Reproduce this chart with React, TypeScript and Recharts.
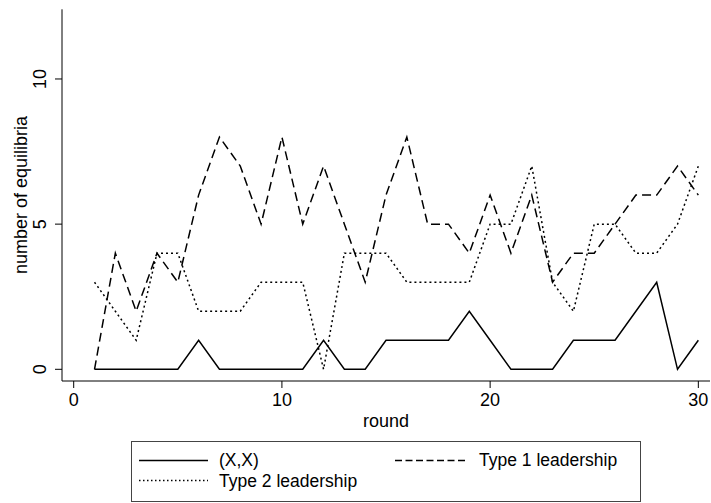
import React from 'react';
import { LineChart, Line, XAxis, YAxis } from 'recharts';

// Rounds of the experiment
const rounds = [1, 2, 3, 4, 5, 6, 7, 8, 9, 10, 11, 12, 13, 14, 15, 16, 17, 18, 19, 20, 21, 22, 23, 24, 25, 26, 27, 28, 29, 30];

// Number of equilibria per round, by type
const xxEquilibria = [0, 0, 0, 0, 0, 1, 0, 0, 0, 0, 0, 1, 0, 0, 1, 1, 1, 1, 2, 1, 0, 0, 0, 1, 1, 1, 2, 3, 0, 1];
const type1Leadership = [0, 4, 2, 4, 3, 6, 8, 7, 5, 8, 5, 7, 5, 3, 6, 8, 5, 5, 4, 6, 4, 6, 3, 4, 4, 5, 6, 6, 7, 6];
const type2Leadership = [3, 2, 1, 4, 4, 2, 2, 2, 3, 3, 3, 0, 4, 4, 4, 3, 3, 3, 3, 5, 5, 7, 3, 2, 5, 5, 4, 4, 5, 7];

const xTicks = [0, 10, 20, 30];
const yTicks = [0, 5, 10];

const seriesNames = ['(X,X)', 'Type 1 leadership', 'Type 2 leadership'];

const data = rounds.map((r, i) => ({
  round: r,
  xx: xxEquilibria[i],
  t1: type1Leadership[i],
  t2: type2Leadership[i],
}));

const FONT = '"Liberation Sans", Arial, Helvetica, sans-serif';
const DASH_T1 = '9 5';
const DASH_T2 = '2 3';

const XTick = (props: any) => {
  const { x, payload } = props;
  return (
    <text x={x} y={406} textAnchor="middle" fontSize={18} fontFamily={FONT} fill="#000">
      {payload.value}
    </text>
  );
};

const YTick = (props: any) => {
  const { y, payload } = props;
  return (
    <text
      transform={`translate(46, ${y}) rotate(-90)`}
      textAnchor="middle"
      fontSize={18}
      fontFamily={FONT}
      fill="#000"
    >
      {payload.value}
    </text>
  );
};

export default function App() {
  return (
    <div style={{ position: 'absolute', left: 0, top: 0, width: 711, height: 503, background: '#fff' }}>
      <LineChart
        width={711}
        height={503}
        data={data}
        margin={{ top: 9.3, right: 1, bottom: 92, left: 0 }}
      >
        <XAxis
          dataKey="round"
          type="number"
          domain={[-0.562, 30.56]}
          ticks={xTicks}
          allowDataOverflow
          height={30}
          tickSize={7}
          tick={<XTick />}
          axisLine={{ stroke: '#000', strokeWidth: 1 }}
          tickLine={{ stroke: '#000', strokeWidth: 1 }}
        />
        <YAxis
          type="number"
          domain={[-0.403, 12.4]}
          ticks={yTicks}
          allowDataOverflow
          width={62}
          tickSize={7}
          tick={<YTick />}
          axisLine={{ stroke: '#000', strokeWidth: 1 }}
          tickLine={{ stroke: '#000', strokeWidth: 1 }}
        />
        <Line
          type="linear"
          dataKey="xx"
          name={seriesNames[0]}
          stroke="#000"
          strokeWidth={1.5}
          dot={false}
          isAnimationActive={false}
        />
        <Line
          type="linear"
          dataKey="t1"
          name={seriesNames[1]}
          stroke="#000"
          strokeWidth={1.5}
          strokeDasharray={DASH_T1}
          dot={false}
          isAnimationActive={false}
        />
        <Line
          type="linear"
          dataKey="t2"
          name={seriesNames[2]}
          stroke="#000"
          strokeWidth={1.5}
          strokeDasharray={DASH_T2}
          dot={false}
          isAnimationActive={false}
        />
      </LineChart>
      <svg
        width={711}
        height={503}
        style={{ position: 'absolute', left: 0, top: 0, pointerEvents: 'none' }}
        fontFamily={FONT}
      >
        <text x={386} y={427} textAnchor="middle" fontSize={18} fill="#000">
          round
        </text>
        <text transform="translate(27, 195) rotate(-90)" textAnchor="middle" fontSize={18} fill="#000">
          number of equilibria
        </text>
        <rect x={131.5} y={441.5} width={509} height={60} fill="#fff" stroke="#444" strokeWidth={1} />
        <line x1={139} y1={460.5} x2={208} y2={460.5} stroke="#000" strokeWidth={1.5} />
        <text x={219} y={466} fontSize={17.5} fill="#000">{seriesNames[0]}</text>
        <line x1={395} y1={460.5} x2={468} y2={460.5} stroke="#000" strokeWidth={1.5} strokeDasharray="7 3.5" />
        <text x={479} y={466} fontSize={17.5} fill="#000">{seriesNames[1]}</text>
        <line x1={139} y1={480.5} x2={208} y2={480.5} stroke="#000" strokeWidth={1.5} strokeDasharray="1.5 2.5" />
        <text x={219} y={486.5} fontSize={17.5} fill="#000">{seriesNames[2]}</text>
      </svg>
    </div>
  );
}
